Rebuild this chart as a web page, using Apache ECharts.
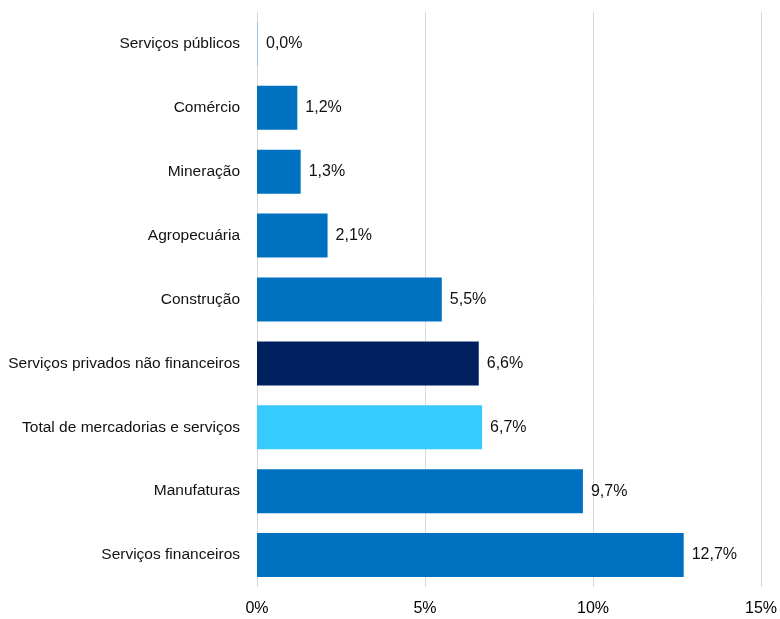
<!DOCTYPE html>
<html><head><meta charset="utf-8">
<script src="https://cdn.jsdelivr.net/npm/echarts@6/dist/echarts.min.js"></script>
<style>html,body{margin:0;padding:0;background:#fff}#c{width:780px;height:619px}</style>
</head><body><div id="c"></div>
<script>
const categories = ["Serviços públicos","Comércio","Mineração","Agropecuária","Construção","Serviços privados não financeiros","Total de mercadorias e serviços","Manufaturas","Serviços financeiros"];
const values = [0.0, 1.2, 1.3, 2.1, 5.5, 6.6, 6.7, 9.7, 12.7];
const barColors = ["#0070C0","#0070C0","#0070C0","#0070C0","#0070C0","#002060","#37CAFF","#0070C0","#0070C0"];
const xTicks = [0, 5, 10, 15];

const chart = echarts.init(document.getElementById('c'), null, {renderer:'canvas'});
const font = 'Liberation Sans, Arial, sans-serif';
chart.setOption({
  animation:false,
  grid:{left:257, right:16, top:12, bottom:32, containLabel:false},
  xAxis:{type:'value', min:xTicks[0], max:xTicks[xTicks.length-1], interval:5,
    axisLine:{show:false}, axisTick:{show:false},
    splitLine:{lineStyle:{color:'#d9d9d9', width:1}},
    axisLabel:{formatter:v=>v+'%', color:'#000', fontSize:16, fontFamily:font, margin:14}},
  yAxis:{type:'category', inverse:true, data:categories,
    axisLine:{show:false}, axisTick:{show:false},
    axisLabel:{color:'#111', fontSize:15.5, fontFamily:font, margin:17, padding:[5,0,0,0]}},
  series:[{type:'bar', barWidth:44, barMinHeight:1,
    data: values.map((v,i)=>({value:v, itemStyle:{color: v===0 ? '#8cc4ea' : barColors[i]}})),
    label:{show:true, position:'right', distance:8, color:'#111', fontSize:16, fontFamily:font, padding:[5,0,0,0],
      formatter:p=>p.value.toFixed(1).replace('.',',')+'%'}}]
});
</script></body></html>
